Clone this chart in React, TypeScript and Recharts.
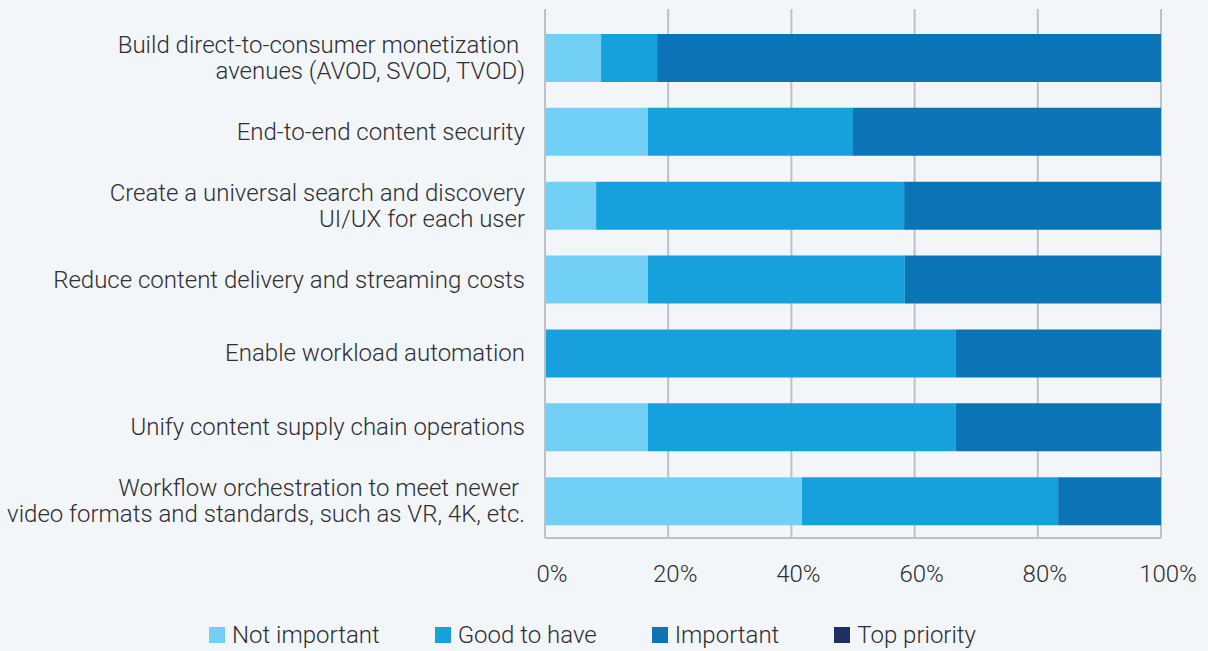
import { Bar, BarChart, CartesianGrid, Legend, XAxis, YAxis } from "recharts";

const categories = [
  "Build direct-to-consumer monetization\u00a0\navenues (AVOD, SVOD, TVOD)",
  "End-to-end content security",
  "Create a universal search and discovery\nUI/UX for each user",
  "Reduce content delivery and streaming costs",
  "Enable workload automation",
  "Unify content supply chain operations",
  "Workflow orchestration to meet newer\u00a0\nvideo formats and standards, such as VR, 4K, etc.",
];

const notImportant = [9.1, 16.7, 8.3, 16.7, 0, 16.7, 41.7];
const goodToHave = [9.1, 33.3, 50, 41.7, 66.7, 50, 41.6];
const important = [81.8, 50, 41.7, 41.6, 33.3, 33.3, 16.7];
const topPriority = [0, 0, 0, 0, 0, 0, 0];

const xTicks = [0, 20, 40, 60, 80, 100];

const series = [
  { key: "notImportant", name: "Not important", color: "#72d0f6" },
  { key: "goodToHave", name: "Good to have", color: "#17a1dc" },
  { key: "important", name: "Important", color: "#0b74b6" },
  { key: "topPriority", name: "Top priority", color: "#1f2e63" },
];

const data = categories.map((category, i) => ({
  category,
  notImportant: notImportant[i],
  goodToHave: goodToHave[i],
  important: important[i],
  topPriority: topPriority[i],
}));

const FONT = "Roboto, sans-serif";
const FONT_SIZE = 24;
const TEXT = "#2e2e33";
const GRID = "#bdc0c6";
const BG = "#f3f6f8";

const CategoryTick = ({ x, y, payload }: any) => {
  const lines = String(payload.value).split("\n");
  return (
    <text
      x={x}
      y={y}
      textAnchor="end"
      fill={TEXT}
      fontSize={FONT_SIZE}
      fontFamily={FONT}
      fontWeight={300}
      style={{ whiteSpace: "pre" }}
    >
      {lines.map((line, i) => (
        <tspan key={i} x={x} dy={i === 0 ? -(lines.length - 1) * 13 + 8 : 26}>
          {line}
        </tspan>
      ))}
    </text>
  );
};

// legend drawn from the series list so the order stays as in the source
const LegendContent = () => (
  <div
    style={{
      display: "flex",
      alignItems: "center",
      height: 40,
      paddingTop: 8,
      paddingLeft: 209,
      boxSizing: "border-box",
      fontFamily: FONT,
      fontWeight: 300,
      fontSize: FONT_SIZE,
      color: TEXT,
    }}
  >
    {series.map((s) => (
      <div
        key={s.key}
        style={{ display: "flex", alignItems: "center", marginRight: 55 }}
      >
        <span
          style={{
            width: 16,
            height: 16,
            background: s.color,
            marginRight: 7,
            display: "inline-block",
          }}
        />
        <span>{s.name}</span>
      </div>
    ))}
  </div>
);

export default function App() {
  return (
    <div
      style={{
        position: "absolute",
        left: 0,
        top: 0,
        width: 1208,
        height: 651,
        background: BG,
      }}
    >
      <BarChart
        width={1208}
        height={651}
        data={data}
        layout="vertical"
        margin={{ top: 9, right: 47, bottom: 43, left: 0 }}
        barSize={48}
      >
        <CartesianGrid horizontal={false} stroke={GRID} strokeWidth={2} />
        <XAxis
          type="number"
          domain={[0, 100]}
          ticks={xTicks}
          tickFormatter={(v) => `${v}%`}
          tickLine={false}
          axisLine={{ stroke: GRID, strokeWidth: 2 }}
          tick={{
            fill: TEXT,
            fontSize: FONT_SIZE,
            fontFamily: FONT,
            fontWeight: 300,
            dx: 7,
          }}
          tickMargin={21}
          height={30}
        />
        <YAxis
          type="category"
          dataKey="category"
          width={545}
          tickLine={false}
          axisLine={{ stroke: GRID, strokeWidth: 2 }}
          tick={<CategoryTick />}
          tickMargin={14}
          padding={{ top: 12, bottom: 0 }}
          interval={0}
        />
        <Legend
          verticalAlign="bottom"
          content={<LegendContent />}
          wrapperStyle={{ bottom: 0, left: 0, width: 1208 }}
        />
        {series.map((s) => (
          <Bar
            key={s.key}
            dataKey={s.key}
            name={s.name}
            stackId="a"
            fill={s.color}
            isAnimationActive={false}
          />
        ))}
      </BarChart>
    </div>
  );
}
